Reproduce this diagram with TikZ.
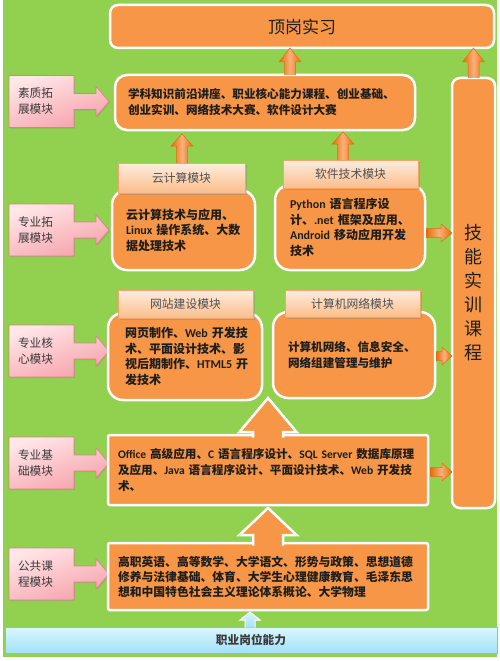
\documentclass[tikz,border=0pt]{standalone}
\usepackage{fontspec}
\setmainfont{Noto Sans CJK SC}
\newfontfamily\latf{Carlito}
\usetikzlibrary{calc,shadows}
\definecolor{bggreen}{HTML}{92D050}
\definecolor{boxorange}{HTML}{F79646}
\definecolor{orgD}{HTML}{E46C0A}
\definecolor{orgL}{HTML}{FAB07A}
\definecolor{hdrL}{HTML}{FDEDE0}
\definecolor{hdrD}{HTML}{FBBD8A}
\definecolor{hdrB}{HTML}{F3A56A}
\definecolor{hdrtxt}{HTML}{505050}
\definecolor{txtdark}{HTML}{1E1E1E}
\definecolor{lbltxt}{HTML}{3A3A3A}
\definecolor{pinkL}{HTML}{FFE6E8}
\definecolor{pinkD}{HTML}{F6A2AB}
\definecolor{pinkB}{HTML}{DE7F8B}
\definecolor{blueL}{HTML}{DAF6FF}
\definecolor{blueD}{HTML}{A2E1F7}
\definecolor{blueB}{HTML}{72C6E4}
\pgfdeclarelayer{bottom}
\pgfdeclarelayer{middle}
\pgfsetlayers{bottom,middle,main}
\newcommand\Lw[1]{{\latf #1}}
% vertical block arrow pointing up: fill opts, draw opts, base, tip, bodyhalf, headhalf, headlen
\newcommand\blkv[7]{%
  \path[#1] let \p1=#3, \p2=#4 in (\x1-#5,\y1) -- (\x1-#5,\y2-#7) -- (\x1-#6,\y2-#7) -- (\x1,\y2) -- (\x1+#6,\y2-#7) -- (\x1+#5,\y2-#7) -- (\x1+#5,\y1) -- cycle;
  \path[#2] let \p1=#3, \p2=#4 in (\x1-#5,\y1) -- (\x1-#5,\y2-#7) -- (\x1-#6,\y2-#7) -- (\x1,\y2) -- (\x1+#6,\y2-#7) -- (\x1+#5,\y2-#7) -- (\x1+#5,\y1);
}
% horizontal block arrow pointing right
\newcommand\blkh[7]{%
  \path[#1] let \p1=#3, \p2=#4 in (\x1,\y1-#5) -- (\x2-#7,\y1-#5) -- (\x2-#7,\y1-#6) -- (\x2,\y1) -- (\x2-#7,\y1+#6) -- (\x2-#7,\y1+#5) -- (\x1,\y1+#5) -- cycle;
  \path[#2] let \p1=#3, \p2=#4 in (\x1,\y1-#5) -- (\x2-#7,\y1-#5) -- (\x2-#7,\y1-#6) -- (\x2,\y1) -- (\x2-#7,\y1+#6) -- (\x2-#7,\y1+#5) -- (\x1,\y1+#5);
}
% pink callout behind a label node
\newcommand\callout[1]{%
  \path[top color=pinkL, bottom color=pinkD, shading angle=20, draw=pinkB, line width=0.6bp,
        drop shadow={shadow xshift=1bp, shadow yshift=-1.2bp, opacity=0.25}]
    (#1.north west) -- (#1.north east) -- ($(#1.east)+(0,-8)$) -- ($(#1.east)+(22,-8)$)
    -- ($(#1.east)+(22,-15)$) -- ($(#1.east)+(35,0)$) -- ($(#1.east)+(22,15)$)
    -- ($(#1.east)+(22,8)$) -- ($(#1.east)+(0,8)$) -- (#1.south east) -- (#1.south west) -- cycle;
}
\begin{document}
\begin{tikzpicture}[x=1bp,y=-1bp,
  topbox/.style={fill=boxorange, draw=white, line width=2.5bp, rounded corners=8bp, text=txtdark,
    font=\fontsize{17bp}{20bp}\selectfont, inner sep=0pt, outer sep=0pt, anchor=north west},
  bodybox/.style={fill=boxorange, draw=white, line width=2.5bp, text=txtdark, align=left,
    inner ysep=0pt, outer sep=0pt, anchor=north west},
  bfA/.style={font=\bfseries\fontsize{11.6bp}{16bp}\selectfont},
  bfB/.style={font=\bfseries\fontsize{12bp}{15.5bp}\selectfont},
  bfC/.style={font=\bfseries\fontsize{11.8bp}{15bp}\selectfont},
  hdr/.style={top color=hdrL, bottom color=hdrD, draw=hdrB, line width=0.6bp,
    drop shadow={shadow xshift=1.5bp, shadow yshift=-1.5bp, opacity=0.35},
    text=hdrtxt, font=\fontsize{11.8bp}{14bp}\selectfont, inner sep=0pt, outer sep=0pt, anchor=north west},
  lbl/.style={minimum width=65bp, minimum height=52bp, text width=47bp, inner xsep=9bp, inner ysep=0pt,
    align=left, outer sep=0pt, text=lbltxt, font=\fontsize{11.7bp}{16bp}\selectfont, anchor=west},
  skillbox/.style={fill=boxorange, draw=white, line width=2.5bp, rounded corners=8bp, text=txtdark,
    align=center, font=\fontsize{18bp}{24bp}\selectfont, inner sep=0pt, outer sep=0pt, anchor=north west},
  bluebar/.style={top color=blueL, bottom color=blueD, draw=blueB, line width=0.8bp, text=lbltxt,
    font=\bfseries\fontsize{11.7bp}{14bp}\selectfont, inner sep=0pt, outer sep=0pt, anchor=north west},
  sfill/.style={left color=orgD, right color=orgD, middle color=orgL},
  sdraw/.style={draw=orgD, line width=0.5bp, line join=miter},
  bigfill/.style={fill=boxorange},
  bigdraw/.style={draw=white, line width=2.5bp, line join=miter},
  bluefill/.style={top color=blueL, bottom color=blueD},
  bluedraw/.style={draw=white, line width=1bp, line join=miter}
]
\useasboundingbox (0,0) rectangle (500,661);
\begin{pgfonlayer}{bottom}
  \fill[bggreen] (3,0) rectangle (497,657);
\end{pgfonlayer}

% helper coordinates
\coordinate (x182) at (182,0);
\coordinate (x343) at (343,0);
\coordinate (x290) at (290,0);
\coordinate (x268) at (268,0);
\coordinate (x250) at (250,0);
\coordinate (y233) at (0,233);
\coordinate (y356) at (0,356);
\coordinate (y472) at (0,472);

% top
\node[topbox, minimum width=384bp, minimum height=43bp] (T) at (110,5) {顶岗实习};

% quality module
\node[bodybox, bfA, rounded corners=12bp, minimum width=300bp, minimum height=55bp,
      text width=274bp, inner xsep=13bp] (S) at (115,75)
  {学科知识前沿讲座、职业核心能力课程、创业基础、\\创业实训、网络技术大赛、软件设计大赛};

% skill column
\node[skillbox, minimum width=43bp, minimum height=430bp] (K) at (452,78) {技\\能\\实\\训\\课\\程};

% professional extension
\node[bodybox, bfB, rounded corners=15bp, minimum width=143bp, minimum height=80bp,
      text width=115bp, inner xsep=14bp] (B1) at (112,190)
  {云计算技术与应用、\\\Lw{Linux}~操作系统、大数\\据处理技术};
\node[bodybox, bfB, rounded corners=15bp, minimum width=150bp, minimum height=85bp,
      text width=120bp, inner xsep=15bp] (B2) at (275,185)
  {\Lw{Python}~语言程序设\\计、\Lw{.net}~框架及应用、\\\Lw{Android}~移动应用开发\\技术};
\node[hdr, minimum width=127bp, minimum height=30bp] (H1) at (118,163) {云计算模块};
\node[hdr, minimum width=135bp, minimum height=28bp] (H2) at (283,160) {软件技术模块};

% professional core
\node[bodybox, bfB, rounded corners=15bp, minimum width=154bp, minimum height=87bp,
      text width=120bp, inner xsep=17bp] (B3) at (108,313)
  {网页制作、\Lw{Web}~开发技\\术、平面设计技术、影\\视后期制作、\Lw{HTML5}~开\\发技术};
\node[bodybox, bfA, rounded corners=15bp, minimum width=162bp, minimum height=86bp,
      text width=132bp, inner xsep=15bp] (B4) at (273,312)
  {计算机网络、信息安全、\\网络组建管理与维护};
\node[hdr, minimum width=135bp, minimum height=28bp] (H3) at (118,290) {网站建设模块};
\node[hdr, minimum width=135bp, minimum height=27bp] (H4) at (285,290) {计算机网络模块};

% professional basics
\node[bodybox, bfA, rounded corners=2bp, minimum width=320bp, minimum height=70bp,
      text width=300bp, inner xsep=10bp] (B5) at (108,435)
  {\Lw{Office}~高级应用、\Lw{C}~语言程序设计、\Lw{SQL~Server}~数据库原理\\及应用、\Lw{Java}~语言程序设计、平面设计技术、\Lw{Web}~开发技\\术、};

% public courses
\node[bodybox, bfC, rounded corners=2bp, minimum width=320bp, minimum height=67bp,
      text width=300bp, inner xsep=10bp] (B6) at (108,543)
  {高职英语、高等数学、大学语文、形势与政策、思想道德\\修养与法律基础、体育、大学生心理健康教育、毛泽东思\\想和中国特色社会主义理论体系概论、大学物理};

% bottom bar
\node[bluebar, minimum width=492bp, minimum height=26bp] (P) at (5,627) {职业岗位能力};

% left labels
\node[lbl] (L1) at (9,101.5) {素质拓\\展模块};
\node[lbl] (L2) at (9,230) {专业拓\\展模块};
\node[lbl] (L3) at (9,351) {专业核\\心模块};
\node[lbl] (L4) at (9,463) {专业基\\础模块};
\node[lbl] (L5) at (9,574) {公共课\\程模块};
\begin{pgfonlayer}{middle}
  \callout{L1}
  \callout{L2}
  \callout{L3}
  \callout{L4}
  \callout{L5}
\end{pgfonlayer}

% small orange arrows
\blkv{sfill}{sdraw}{(S.north -| x290)}{(T.south -| x290)}{5.5bp}{11bp}{14bp}
\blkv{sfill}{sdraw}{(K.north)}{(T.south -| K.north)}{5.5bp}{11bp}{14bp}
\blkv{sfill}{sdraw}{(H1.north -| x182)}{($(S.south -| x182)+(0,4)$)}{5.5bp}{11bp}{12bp}
\blkv{sfill}{sdraw}{(H2.north -| x343)}{($(S.south -| x343)+(0,2)$)}{5.5bp}{11bp}{12bp}
\blkh{sfill}{sdraw}{($(B2.east |- y233)+(1,0)$)}{(K.west |- y233)}{4.5bp}{9bp}{11bp}
\blkh{sfill}{sdraw}{($(B4.east |- y356)+(1,0)$)}{(K.west |- y356)}{4.5bp}{9bp}{10bp}
\blkh{sfill}{sdraw}{($(B5.east |- y472)+(2,0)$)}{(K.west |- y472)}{4.5bp}{9bp}{10bp}

% big arrows
\blkv{bigfill}{bigdraw}{($(B5.north -| x268)+(0,2.5)$)}{(B4.south -| x268)}{15bp}{28.5bp}{34bp}
\blkv{bigfill}{bigdraw}{($(B6.north -| x268)+(0,2.5)$)}{($(B5.south -| x268)+(0,3)$)}{15bp}{28.5bp}{27bp}

% light blue arrow
\blkv{bluefill}{bluedraw}{($(P.north -| x250)+(0,0.5)$)}{($(B6.south -| x250)+(0,2)$)}{5bp}{10bp}{8bp}
\end{tikzpicture}
\end{document}
